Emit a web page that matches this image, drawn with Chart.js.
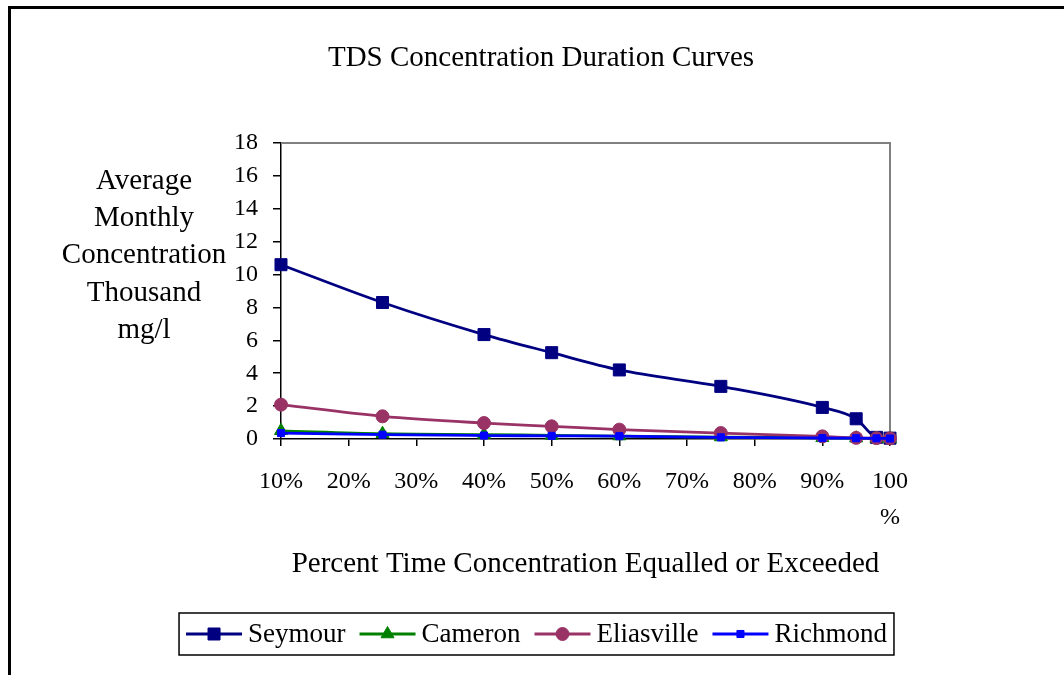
<!DOCTYPE html>
<html>
<head>
<meta charset="utf-8">
<title>TDS Concentration Duration Curves</title>
<script src="https://cdn.jsdelivr.net/npm/chart.js@4.4.1/dist/chart.umd.min.js"></script>
<style>
    html, body { margin: 0; padding: 0; background: #fff; }
    #tdsChart { display: block; }
</style>
</head>
<body>
<canvas id="tdsChart" width="1064" height="675"></canvas>
<script>
// Dữ liệu biểu đồ
const percentTime = [10, 25, 40, 50, 60, 75, 90, 95, 98, 100];
const seymour    = [10.6, 8.3, 6.35, 5.25, 4.2, 3.2, 1.92, 1.23, 0.1, 0.05];
const cameron    = [0.5, 0.32, 0.27, 0.22, 0.18, 0.12, 0.07, 0.05, 0.03, 0.02];
const eliasville = [2.09, 1.38, 0.97, 0.77, 0.57, 0.36, 0.16, 0.07, 0.05, 0.04];
const richmond   = [0.36, 0.26, 0.21, 0.19, 0.17, 0.1, 0.06, 0.05, 0.04, 0.03];
const xTicks = [10, 20, 30, 40, 50, 60, 70, 80, 90, 100];
const yTicks = [0, 2, 4, 6, 8, 10, 12, 14, 16, 18];
const chartTitle = 'TDS Concentration Duration Curves';
const xTitle = 'Percent Time Concentration Equalled or Exceeded';
const yTitleLines = ['Average', 'Monthly', 'Concentration', 'Thousand', 'mg/l'];

const FONT = '"Liberation Serif", "Times New Roman", serif';

// Kiểu cho từng đường
const seriesList = [
    { label: 'Seymour',    values: seymour,    color: '#000080', style: 'rect',     radius: 8.5, width: 2.8, order: 3 },
    { label: 'Cameron',    values: cameron,    color: '#008000', style: 'triangle', radius: 7.5, width: 2.8, order: 2 },
    { label: 'Eliasville', values: eliasville, color: '#993366', style: 'circle',   radius: 6.5, width: 2.8, order: 1 },
    { label: 'Richmond',   values: richmond,   color: '#0000FF', style: 'rect',     radius: 5,   width: 2.8, order: 0 }
];

// Plugin vẽ khung, tiêu đề và chú thích
const decorPlugin = {
    id: 'decor',
    beforeDraw(chart) {
        const ctx = chart.ctx;
        ctx.save();
        ctx.fillStyle = '#fff';
        ctx.fillRect(0, 0, chart.width, chart.height);
        ctx.strokeStyle = '#000';
        ctx.lineWidth = 3;
        ctx.beginPath();
        ctx.moveTo(9.5, chart.height + 5);
        ctx.lineTo(9.5, 7.5);
        ctx.lineTo(chart.width + 5, 7.5);
        ctx.stroke();

        // Tiêu đề biểu đồ
        ctx.fillStyle = '#000';
        ctx.font = '29px ' + FONT;
        ctx.textAlign = 'center';
        ctx.textBaseline = 'middle';
        ctx.fillText(chartTitle, 541, 58);
        ctx.restore();
    },
    beforeDatasetsDraw(chart) {
        const { ctx, chartArea } = chart;
        ctx.save();
        ctx.strokeStyle = '#808080';
        ctx.lineWidth = 2;
        ctx.beginPath();
        ctx.moveTo(chartArea.left, chartArea.top);
        ctx.lineTo(chartArea.right, chartArea.top);
        ctx.lineTo(chartArea.right, chartArea.bottom);
        ctx.stroke();
        ctx.restore();
    },
    afterDraw(chart) {
        const { ctx, chartArea } = chart;
        ctx.save();
        // Tiêu đề trục Y
        ctx.fillStyle = '#000';
        ctx.font = '29px ' + FONT;
        ctx.textAlign = 'center';
        ctx.textBaseline = 'middle';
        yTitleLines.forEach((line, i) => {
            ctx.fillText(line, 144, chartArea.top + 38 + i * 37.3);
        });

        // Chú thích
        ctx.font = '27px ' + FONT;
        const lineLen = 56, gapText = 6, gapItem = 14, padX = 7;
        const widths = seriesList.map(s => ctx.measureText(s.label).width);
        let total = padX * 2 + gapItem * (seriesList.length - 1);
        widths.forEach(w => { total += lineLen + gapText + w; });
        const boxLeft = 536.5 - total / 2;
        const boxTop = 613, boxH = 42;
        const cy = boxTop + boxH / 2;
        ctx.strokeStyle = '#000';
        ctx.lineWidth = 1.5;
        ctx.strokeRect(boxLeft, boxTop, total, boxH);

        let x = boxLeft + padX;
        ctx.textAlign = 'left';
        seriesList.forEach((s, i) => {
            ctx.strokeStyle = s.color;
            ctx.fillStyle = s.color;
            ctx.lineWidth = s.width;
            ctx.beginPath();
            ctx.moveTo(x, cy);
            ctx.lineTo(x + lineLen, cy);
            ctx.stroke();
            ctx.lineWidth = 1;
            Chart.helpers.drawPoint(ctx, { pointStyle: s.style, radius: s.radius, rotation: 0, borderWidth: 1 }, x + lineLen / 2, cy);
            ctx.fillStyle = '#000';
            ctx.fillText(s.label, x + lineLen + gapText, cy + 1);
            x += lineLen + gapText + widths[i] + gapItem;
        });
        ctx.restore();
    }
};

const datasets = seriesList.map(s => ({
    label: s.label,
    data: percentTime.map((p, i) => ({ x: p, y: s.values[i] })),
    borderColor: s.color,
    backgroundColor: s.color,
    borderWidth: s.width,
    pointStyle: s.style,
    pointRadius: s.radius,
    pointBorderWidth: 1,
    pointBackgroundColor: s.color,
    pointBorderColor: s.color,
    cubicInterpolationMode: 'monotone',
    clip: false,
    order: s.order
}));

const ctx = document.getElementById('tdsChart').getContext('2d');
const tdsChart = new Chart(ctx, {
    type: 'line',
    data: { datasets: datasets },
    options: {
        responsive: false,
        animation: false,
        layout: { padding: { left: 0, right: 174, top: 143, bottom: 93 } },
        plugins: {
            legend: { display: false },
            tooltip: { enabled: false },
            title: { display: false }
        },
        scales: {
            x: {
                type: 'linear',
                min: 10,
                max: 100,
                afterBuildTicks: axis => { axis.ticks = xTicks.map(v => ({ value: v })); },
                afterFit: axis => { axis.height = 143; },
                grid: { drawOnChartArea: false, tickLength: 7, color: '#000', lineWidth: 1.5 },
                border: { color: '#000', width: 1.5 },
                ticks: {
                    color: '#000',
                    font: { family: FONT, size: 24, lineHeight: 1.5 },
                    padding: 18,
                    maxRotation: 0,
                    autoSkip: false,
                    callback: v => v === 100 ? ['100', '%'] : v + '%'
                },
                title: {
                    display: true,
                    text: xTitle,
                    color: '#000',
                    font: { family: FONT, size: 29 },
                    padding: { top: 0, bottom: 0 }
                }
            },
            y: {
                min: 0,
                max: 18,
                afterBuildTicks: axis => { axis.ticks = yTicks.map(v => ({ value: v })); },
                afterFit: axis => { axis.width = 281; },
                grid: { drawOnChartArea: false, tickLength: 8, color: '#000', lineWidth: 1.5 },
                border: { color: '#000', width: 1.5 },
                ticks: {
                    color: '#000',
                    font: { family: FONT, size: 24 },
                    padding: 15
                }
            }
        }
    },
    plugins: [decorPlugin]
});
</script>
</body>
</html>
